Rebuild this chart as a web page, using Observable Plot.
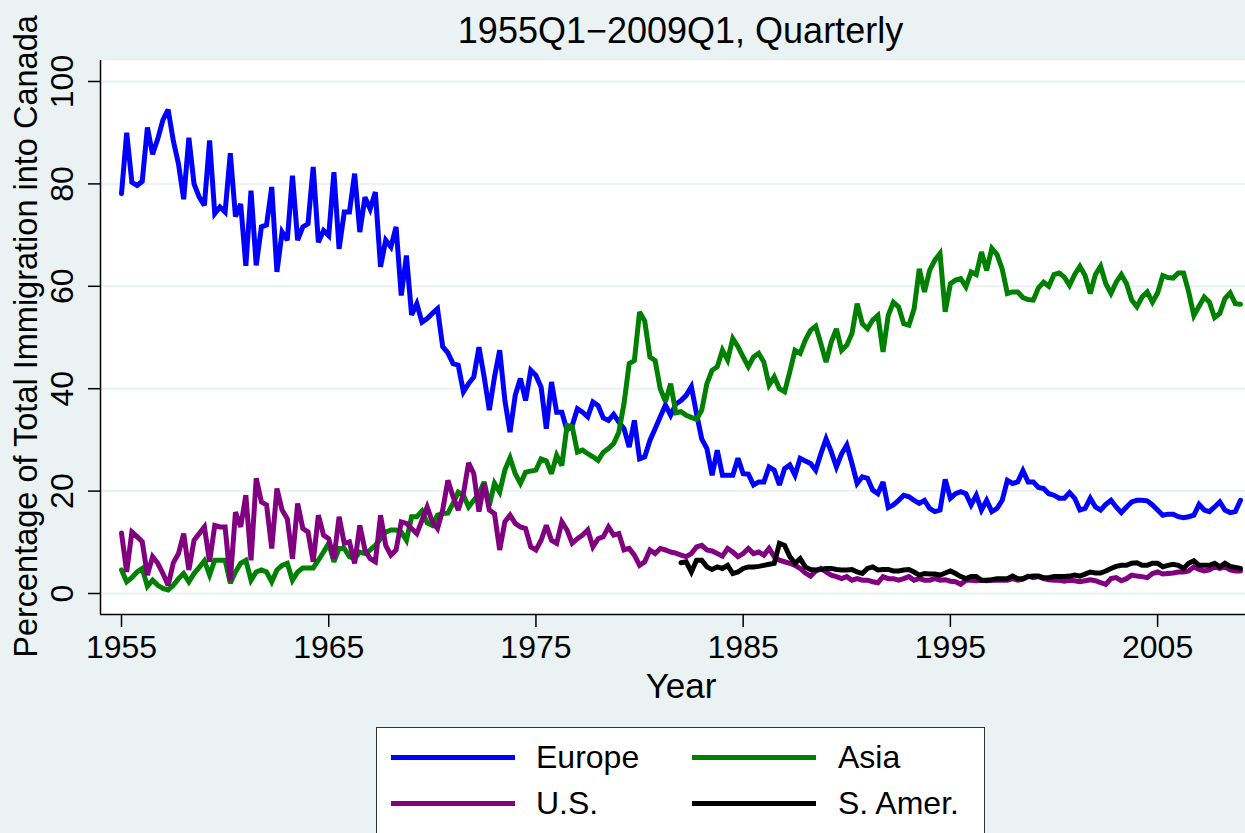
<!DOCTYPE html>
<html>
<head>
<meta charset="utf-8">
<script src="https://cdn.jsdelivr.net/npm/d3@7"></script>
<script src="https://cdn.jsdelivr.net/npm/@observablehq/plot@0.6"></script>
<style>
  html, body { margin: 0; padding: 0; background: #EAF2F3; overflow: hidden; }
  #wrap { position: relative; width: 1245px; height: 833px; overflow: hidden;
          font-family: "Liberation Sans", Arial, Helvetica, sans-serif; color: #000; }
  #subtitle { width: 1361px; height: 60px; line-height: 60px; text-align: center; font-size: 36px; padding-top: 1px; box-sizing: border-box; }
  #chart { width: 1290px; height: 660px; }
  #chart svg { display: block; max-width: none !important; width: 1290px !important; height: 660px !important; }
  #legend { position: absolute; left: 376px; top: 727px; width: 609px; height: 140px; background: #fff;
            border: 1.5px solid #333; box-sizing: border-box; }
  .sw { position: absolute; width: 124px; height: 5px; }
  .lb { position: absolute; font-size: 32px; line-height: 40px; height: 40px; white-space: nowrap; }
</style>
</head>
<body>
<div id="wrap">
  <div id="subtitle">1955Q1−2009Q1, Quarterly</div>
  <div id="chart"></div>
  <div id="legend"></div>
</div>
<script>
// ---- data (percent of total immigration into Canada, quarterly) ----
const seriesNames = ["Europe", "Asia", "U.S.", "S. Amer."];
const seriesColors = ["#0000ff", "#008000", "#800080", "#000000"];
const firstYear = 1955;      // 1955Q1
const samerFirstYear = 1982; // 1982Q1
const xTicks = [1955, 1965, 1975, 1985, 1995, 2005];
const yTicks = [0, 20, 40, 60, 80, 100];

const europe = [78.1,90,80.3,79.7,80.5,91,85.8,88.8,92.5,94.5,
88.4,83.9,77,89,80,77.4,75.8,88.5,74.2,75.5,
74.5,86,73.6,76.1,64,78.7,64.1,71.6,72,79.4,
62.8,70.6,69,81.6,69,71.6,72.2,83.3,68.6,70.9,
69.9,82.3,67.3,74.5,74.5,82,70.6,77.4,75.1,78.4,
63.8,69,67.7,71.6,58.2,66,54.4,56.6,53,53.7,
54.7,55.6,48.2,47,44.9,44.6,39.4,41,42.3,48.1,
42.3,35.8,42.3,47.5,37.7,31.5,38.7,42,37.7,43.6,
42.6,40.3,32.2,41.3,35.4,35.4,31.9,32.8,36.1,35.4,
34.5,37.4,36.7,34.3,33.8,35,33.5,32.2,28.6,33.8,
26.3,26.7,29.9,32.2,34.5,36.8,34.8,37,37.7,38.7,
40.4,35.1,30.2,28.3,23.1,28,23.1,23.1,23.1,26.4,
23.4,23.3,21.2,21.8,21.8,24.7,24.1,21.2,24.4,25.1,
23.1,26.4,25.9,25.4,24.1,27.3,30.2,27.7,24.7,27.3,
29,25.4,21.5,22.8,22.5,20.2,19.5,21.8,16.8,17.3,
18.2,19.2,18.9,18.2,17.6,18.2,16.6,16,16.3,22.3,
18.6,19.5,19.9,19.5,17.3,19.2,16.3,18.2,16,16.6,
18.2,22.1,21.5,21.8,24,21.8,21.8,20.7,20.5,19.5,
19.2,18.6,18.6,19.7,18.6,16.3,16.6,18.6,16.9,16.3,
17.4,18.2,16.9,15.8,16.9,17.9,18.2,18.2,18.1,17.3,
16.3,15.3,15.5,15.5,15,14.8,15,15.3,17.4,16.3,
16,16.9,17.9,16.3,15.8,16,18.2];

const asia = [4.6,2.3,3.1,4.2,4.9,1.4,2.6,1.6,1,0.7,
1.6,2.9,3.9,2.3,3.9,5.1,6.4,3.6,6.5,6.5,
6.5,2,4.2,5.9,6.5,2.6,4.2,4.6,4.2,2.3,
4.6,5.5,5.9,2.6,4.2,5,5,5,6.5,8.1,
9.8,6.2,8.8,8.8,7.2,6.8,8.1,7.8,8.5,9.4,
10.7,12,12.4,12.4,12,10.4,15,15,16.1,13.8,
13.3,15.3,15.6,15.7,17.6,19.8,19.2,16.9,18.2,19.5,
21.8,17.2,21.5,19.8,24.1,26.5,23.4,21.5,23.7,23.9,
24.1,26.3,25.9,23.4,27,25,32.8,32.6,27.6,28,
27.3,26.7,26,27.6,28.3,29.3,31.5,37.1,44.9,45.5,
55,53.2,46.2,45.5,40,37.5,41,35.3,35.5,34.8,
34.4,34,35.8,41,43.6,44.3,47.5,45.6,49.8,48.2,
46.2,44.3,46.2,46.9,45.2,40.7,42.3,40,39.4,43.3,
47.5,46.9,49.5,51.4,52.2,48.8,45.2,49.1,51.7,47.5,
48.5,50.8,56.6,52.7,51.7,53.4,54.3,47.2,54.3,56.9,
56,52.7,52.4,55.6,63.4,58.9,63.1,65.1,66.4,55,
60.5,61.2,61.5,59.9,62.8,62.3,66.7,63.1,67.4,66.2,
63.4,58.6,58.9,58.9,57.8,57.4,57.3,59.7,60.8,60,
62.3,62.6,61.8,60.2,62.3,63.9,62.1,58.6,62.3,63.9,
60.5,58.6,60.8,62.3,60.5,57.3,56,57.9,58.9,56.9,
58.7,62.1,61.7,61.6,62.6,62.6,58.9,54.3,56.1,57.9,
56.9,53.9,54.7,57.6,58.7,56.6,56.5];

const us = [11.8,4.2,12,11.1,10.1,3.6,7.2,5.9,3.9,1.6,
6,7.8,11.7,4.6,10.4,11.7,13,6.2,13.3,13,
13,2.6,15.9,13,19.2,6.5,22.5,17.9,17.3,8.8,
20.5,16.3,14.6,6.8,17.6,12.7,12,6.2,15.3,11.4,
10.7,6.8,15,9.8,10.1,5.9,13.3,8.5,6.8,6.2,
15.3,9.4,7.5,8.5,14,13.7,12.7,11.7,14.3,16.9,
14,12.7,16.3,22.1,18.9,16.3,19.5,25.5,23.4,16,
21.5,16.3,15.6,8.5,14,15.3,13.7,13,12.7,9.1,
8.5,10.4,13.3,10.4,9.8,14,12.4,9.8,10.7,11.4,
12.4,9.1,10.7,11.1,13,11.4,11.7,8.5,8.8,7.5,
5.5,6.2,8.5,7.8,8.8,8.5,8.1,7.9,7.5,7.2,
7.8,9.1,9.4,8.5,8.3,7.8,7.3,8.8,8.1,7.2,
7.8,8.8,7.8,8.1,7.5,8.8,7.2,6.5,6.2,5.9,
5.5,4.9,4,3.4,4.4,4.9,4.2,3.6,3.3,2.9,
3.3,2.6,2.9,2.6,2.6,2.3,2.1,3.3,2.9,2.9,
2.6,2.9,3.3,2.6,2.9,2.6,2.6,2.9,2.6,2.7,
2.4,2.3,1.8,2.6,2.6,2.5,2.6,2.5,2.6,2.6,
2.6,2.6,2.9,2.6,2.8,3.4,3.1,3.3,2.9,2.7,
2.6,2.6,2.4,2.6,2.5,2.3,2.5,2.7,2.5,2.1,
1.8,2.9,3.1,2.5,2.9,3.6,3.4,3.3,3.1,3.9,
4.2,3.8,3.9,4,4.2,4.2,4.4,5.2,4.7,4.4,
4.6,5.2,4.9,5.2,4.6,4.4,4.4];

const samer = [6,6.2,4.2,6.5,6.5,5.2,4.7,5.2,4.9,5.5,
3.9,4.2,4.9,5.2,5.2,5.3,5.5,5.7,5.9,9.8,
9.4,7.2,5.9,6.8,5.2,4.7,4.6,4.7,4.9,4.9,
4.7,4.6,4.6,4.7,4.2,3.9,4.9,5.2,4.6,4.7,
4.7,4.4,4.4,4.6,4.7,4.2,3.6,3.9,3.8,3.8,
3.6,4,4.4,3.9,3.3,2.9,3.3,3.3,2.6,2.6,
2.7,2.9,2.9,2.9,3.4,2.9,2.9,3.3,3.4,3.4,
3.1,3.1,3.3,3.3,3.3,3.4,3.6,3.4,3.8,4.2,
4,4,4.4,4.9,5.3,5.5,5.5,5.9,6,5.5,
5.5,5.9,5.9,5.2,5.5,5.7,5.5,4.9,5.9,6.4,
5.5,5.5,5.5,5.9,5.2,5.9,5.3,5.1,4.9];

// ---- table for the library ----
const rows = [];
function addSeries(name, values, startYear) {
  values.forEach((v, i) => rows.push({series: name, date: startYear + i / 4, value: v}));
}
addSeries("Europe", europe, firstYear);
addSeries("Asia", asia, firstYear);
addSeries("U.S.", us, firstYear);
addSeries("S. Amer.", samer, samerFirstYear);

const xDomain = [1953.986, 2010.014];
const yDomain = [-4.1, 104.1];
const font = "'Liberation Sans', Arial, Helvetica, sans-serif";

const chart = Plot.plot({
  width: 1290,
  height: 660,
  marginTop: 0,
  marginLeft: 100,
  marginRight: 29,
  marginBottom: 106,
  style: {background: "transparent", overflow: "visible", fontFamily: font, color: "#000", maxWidth: "none"},
  x: {domain: xDomain, axis: null},
  y: {domain: yDomain, axis: null},
  color: {domain: seriesNames, range: seriesColors},
  marks: [
    Plot.frame({fill: "#ffffff", stroke: "none"}),
    Plot.gridY(yTicks, {stroke: "#EAF2F3", strokeOpacity: 1, strokeWidth: 2}),
    Plot.line(rows, {x: "date", y: "value", z: "series", stroke: "series",
      strokeWidth: 5, strokeLinejoin: "miter", strokeMiterlimit: 3}),
    Plot.ruleX([xDomain[0]], {stroke: "#000", strokeWidth: 1.5}),
    Plot.ruleY([yDomain[0]], {stroke: "#000", strokeWidth: 1.5}),
    Plot.axisX(xTicks, {tickSize: 13, tickPadding: 8, fontSize: 32, tickFormat: d => String(d),
      label: null, stroke: "#000", strokeWidth: 1.5, fill: "#000"}),
    Plot.axisY(yTicks, {tickSize: 12, tickFormat: () => "", label: null, stroke: "#000", strokeWidth: 1.5}),
    Plot.text(yTicks, {y: d => d, text: d => String(d), frameAnchor: "left", dx: -28,
      rotate: -90, textAnchor: "middle", lineAnchor: "bottom", fontSize: 32, fill: "#000"}),
    Plot.text(["Percentage of Total Immigration into Canada"], {text: d => d, frameAnchor: "left",
      dx: -64, dy: -1, rotate: -90, textAnchor: "middle", lineAnchor: "bottom", fontSize: 32.5, fill: "#000"}),
    Plot.text(["Year"], {text: d => d, frameAnchor: "bottom", dy: 83, lineAnchor: "bottom",
      fontSize: 35, fill: "#000"})
  ]
});
document.getElementById("chart").appendChild(chart);

// ---- legend ----
const legend = document.getElementById("legend");
const legendPos = [
  {sx: 14, lx: 159, cy: 29},
  {sx: 315, lx: 461, cy: 29},
  {sx: 14, lx: 159, cy: 75},
  {sx: 315, lx: 461, cy: 75}
];
seriesNames.forEach((name, i) => {
  const p = legendPos[i];
  const sw = document.createElement("div");
  sw.className = "sw";
  sw.style.left = p.sx + "px";
  sw.style.top = (p.cy - 2.5) + "px";
  sw.style.background = seriesColors[i];
  legend.appendChild(sw);
  const lb = document.createElement("div");
  lb.className = "lb";
  lb.style.left = p.lx + "px";
  lb.style.top = (p.cy - 20) + "px";
  lb.textContent = name;
  legend.appendChild(lb);
});
</script>
</body>
</html>
